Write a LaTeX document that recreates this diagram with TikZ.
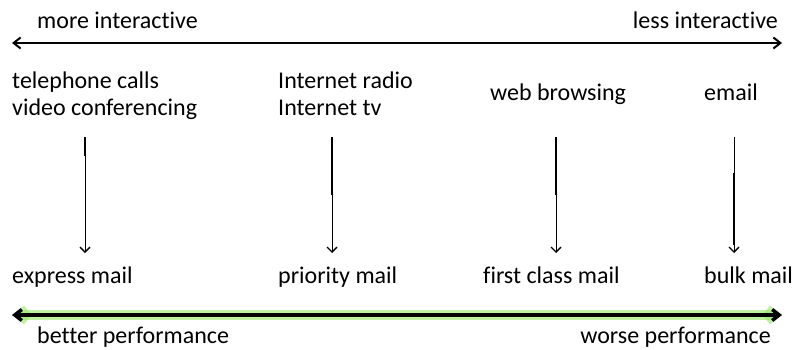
\documentclass[tikz,border=0pt]{standalone}
\usepackage{fontspec}
\setmainfont{Carlito}[Ligatures=NoCommon]
\usetikzlibrary{arrows.meta}
\definecolor{Glow}{RGB}{150,230,100}

\begin{document}
\begin{tikzpicture}[
  x=1pt, y=-1pt,
  txt/.style={font=\fontsize{24}{27}\selectfont, inner sep=0pt, anchor=base west, align=left},
  scale line/.style={line width=2pt, {Straight Barb[length=7pt,width=11pt]}-{Straight Barb[length=7pt,width=11pt]}},
  flow/.style={line width=0.9pt, -{Straight Barb[length=5pt,width=10pt,line width=1.3pt]}},
  glow/.style={preaction={draw=Glow, line width=10pt, opacity=0.6, line cap=round}}
]
\useasboundingbox (0,0) rectangle (794,350);

% interactivity scale
\coordinate (il) at (12,43);
\coordinate (ir) at (782,43);
\draw[scale line] (il) -- (ir);
\node[txt] (more) at (37,29) {more interactive};
\node[txt, anchor=base east] (less) at (778,29) {less interactive};

% applications
\node[txt] (tel) at (12,115) {telephone calls\\video conferencing};
\node[txt] (radio) at (278,115) {Internet radio\\Internet tv};
\node[txt] (web) at (490,101) {web browsing};
\node[txt] (email) at (704,101) {email};

% mail classes
\node[txt] (express) at (12,283) {express mail};
\node[txt] (priority) at (278,283) {priority mail};
\node[txt] (first) at (483,283) {first class mail};
\node[txt] (bulk) at (704,283) {bulk mail};

% arrows down
\foreach \n/\x/\ta/\tb in {1/85/137/156, 2/332/137/195, 3/556/137/195, 4/734/173/245}
{
  \coordinate (s\n) at (\x,137);
  \coordinate (e\n) at (\x,253);
  \draw[flow] (s\n) -- (e\n);
  \draw[line width=2pt] (\x,\ta) -- (\x,\tb);
}

% performance scale
\coordinate (pl) at (12,315);
\coordinate (pr) at (782,315);
\draw[scale line, line width=3.5pt, glow] (pl) -- (pr);
\node[txt] (better) at (37,343) {better performance};
\node[txt, anchor=base east] (worse) at (771,343) {worse performance};
\end{tikzpicture}
\end{document}
